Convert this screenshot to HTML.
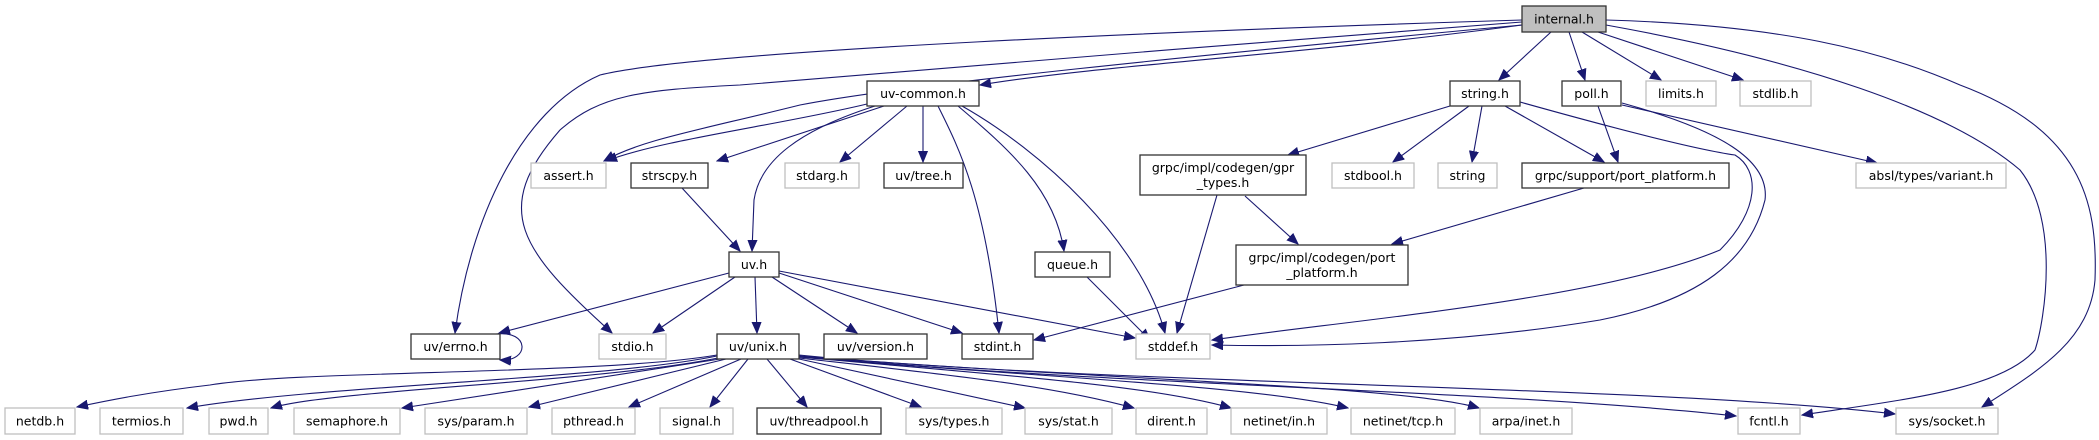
<!DOCTYPE html>
<html><head><meta charset="utf-8"><style>
html,body{margin:0;padding:0;background:#fff;width:2099px;height:440px;overflow:hidden}
svg{display:block}
text{font-family:"DejaVu Sans","Liberation Sans",sans-serif;font-size:12.5px;fill:#000}
.b{fill:#fff;stroke:#333;stroke-width:1.3}
.g{fill:#fff;stroke:#bfbfbf;stroke-width:1.3}
.e{fill:none;stroke:#191970;stroke-width:1.1}
</style></head><body>
<svg width="2099" height="440" viewBox="0 0 2099 440">
<defs><marker id="a" markerUnits="userSpaceOnUse" markerWidth="12" markerHeight="10" refX="11" refY="5" orient="auto"><path d="M0,0.5 L11,5 L0,9.5 Z" fill="#191970" stroke="#191970"/></marker></defs>
<g marker-end="url(#a)">
<!-- internal.h -->
<path class="e" d="M1522,20 C1200,30 700,50 600,75 C520,110 470,220 455,333"/>
<path class="e" d="M1522,22 C1300,40 900,70 740,85 C640,90 600,95 560,130 C490,210 520,250 612,333"/>
<path class="e" d="M1522,25 C1200,55 900,85 800,105 C700,130 640,140 604,161"/>
<path class="e" d="M1522,25 C1300,55 1100,65 980,85"/>
<path class="e" d="M1551,32 L1499,80"/>
<path class="e" d="M1569,32 L1585,80"/>
<path class="e" d="M1582,32 L1661,80"/>
<path class="e" d="M1598,32 L1743,80"/>
<path class="e" d="M1606,25 C1800,60 1950,110 2020,170 C2060,220 2045,320 2035,350 C2000,390 1900,400 1802,415"/>
<path class="e" d="M1606,20 C1780,25 1880,50 1960,85 C2080,130 2098,200 2095,280 C2090,340 2040,370 1982,407"/>
<!-- uv-common.h -->
<path class="e" d="M867,104 C780,125 660,140 606,161"/>
<path class="e" d="M884,106 L717,161"/>
<path class="e" d="M875,106 C800,130 760,160 754,200 L752,251"/>
<path class="e" d="M907,106 L840,162"/>
<path class="e" d="M923,106 L923,162"/>
<path class="e" d="M938,106 C960,150 985,200 999,333"/>
<path class="e" d="M958,106 C1010,150 1055,190 1064,251"/>
<path class="e" d="M962,106 C1040,150 1140,240 1165,333"/>
<path class="e" d="M682,188 L740,251"/>
<!-- string.h -->
<path class="e" d="M1450,106 L1288,155"/>
<path class="e" d="M1469,106 L1393,162"/>
<path class="e" d="M1482,106 L1472,162"/>
<path class="e" d="M1505,106 L1604,162"/>
<path class="e" d="M1520,102 C1620,130 1700,150 1735,155 C1760,170 1760,210 1720,250 C1600,300 1350,320 1212,340"/>
<!-- poll.h -->
<path class="e" d="M1598,106 L1618,162"/>
<path class="e" d="M1622,105 L1877,163"/>
<path class="e" d="M1622,103 C1720,130 1770,160 1765,200 C1750,260 1700,300 1600,320 C1450,345 1300,347 1212,345"/>
<!-- grpc -->
<path class="e" d="M1217,195 L1177,333"/>
<path class="e" d="M1245,196 L1298,244"/>
<path class="e" d="M1584,188 L1392,244"/>
<path class="e" d="M1244,285 L1034,340"/>
<path class="e" d="M1087,277 L1150,340"/>
<!-- uv.h -->
<path class="e" d="M729,273 L499,333"/>
<path class="e" d="M735,277 L653,333"/>
<path class="e" d="M755,277 L757,333"/>
<path class="e" d="M772,277 L857,333"/>
<path class="e" d="M779,273 L962,333"/>
<path class="e" d="M779,271 L1135,338"/>
<path class="e" d="M496,334 C530,330 530,362 500,360"/>
<!-- uv/unix.h -->
<path class="e" d="M717,355 C600,375 300,370 210,385 C150,392 110,400 77,407"/>
<path class="e" d="M717,356 C600,380 320,385 187,408"/>
<path class="e" d="M718,358 C600,382 330,390 271,408"/>
<path class="e" d="M720,359 L402,408"/>
<path class="e" d="M726,359 L529,407"/>
<path class="e" d="M741,359 L629,407"/>
<path class="e" d="M748,359 L710,407"/>
<path class="e" d="M767,359 L807,407"/>
<path class="e" d="M790,359 L921,407"/>
<path class="e" d="M799,359 L1025,408"/>
<path class="e" d="M799,358 C950,375 1050,385 1134,408"/>
<path class="e" d="M799,357 C1000,375 1150,385 1231,408"/>
<path class="e" d="M799,357 C1050,378 1250,385 1348,408"/>
<path class="e" d="M799,356 C1100,380 1400,385 1479,408"/>
<path class="e" d="M799,356 C1100,385 1500,390 1736,416"/>
<path class="e" d="M799,355 C1100,385 1650,385 1895,414"/>
</g>
<!-- nodes -->
<g text-anchor="middle">
<rect x="1522" y="6" width="84" height="26" fill="#bfbfbf" stroke="#333" stroke-width="1.3"/><text x="1564" y="23.5">internal.h</text>
<rect class="b" x="867" y="81" width="112" height="25"/><text x="923" y="98">uv-common.h</text>
<rect class="b" x="1450" y="81" width="70" height="25"/><text x="1485" y="98">string.h</text>
<rect class="b" x="1562" y="81" width="59" height="25"/><text x="1591.5" y="98">poll.h</text>
<rect class="g" x="1646" y="81" width="70" height="25"/><text x="1681" y="98">limits.h</text>
<rect class="g" x="1740" y="81" width="71" height="25"/><text x="1775.5" y="98">stdlib.h</text>
<rect class="g" x="531" y="163" width="75" height="25"/><text x="568.5" y="180">assert.h</text>
<rect class="b" x="631" y="163" width="77" height="25"/><text x="669.5" y="180">strscpy.h</text>
<rect class="g" x="785" y="163" width="74" height="25"/><text x="822" y="180">stdarg.h</text>
<rect class="b" x="884" y="163" width="79" height="25"/><text x="923.5" y="180">uv/tree.h</text>
<rect class="b" x="1140" y="155" width="166" height="40"/><text x="1223" y="172">grpc/impl/codegen/gpr</text><text x="1223" y="187">_types.h</text>
<rect class="g" x="1332" y="163" width="82" height="25"/><text x="1373" y="180">stdbool.h</text>
<rect class="g" x="1438" y="163" width="59" height="25"/><text x="1467.5" y="180">string</text>
<rect class="b" x="1522" y="163" width="207" height="25"/><text x="1625.5" y="180">grpc/support/port_platform.h</text>
<rect class="g" x="1856" y="163" width="150" height="25"/><text x="1931" y="180">absl/types/variant.h</text>
<rect class="b" x="729" y="252" width="50" height="25"/><text x="754" y="269">uv.h</text>
<rect class="b" x="1035" y="252" width="75" height="25"/><text x="1072.5" y="269">queue.h</text>
<rect class="b" x="1236" y="245" width="172" height="40"/><text x="1322" y="262">grpc/impl/codegen/port</text><text x="1322" y="277">_platform.h</text>
<rect class="b" x="411" y="334" width="89" height="25"/><text x="455.5" y="351">uv/errno.h</text>
<rect class="g" x="599" y="334" width="67" height="25"/><text x="632.5" y="351">stdio.h</text>
<rect class="b" x="717" y="334" width="82" height="25"/><text x="758" y="351">uv/unix.h</text>
<rect class="b" x="824" y="334" width="103" height="25"/><text x="875.5" y="351">uv/version.h</text>
<rect class="b" x="962" y="334" width="71" height="25"/><text x="997.5" y="351">stdint.h</text>
<rect class="g" x="1136" y="334" width="74" height="25"/><text x="1173" y="351">stddef.h</text>
<rect class="g" x="5" y="408" width="70" height="26"/><text x="40" y="425.5">netdb.h</text>
<rect class="g" x="100" y="408" width="83" height="26"/><text x="141.5" y="425.5">termios.h</text>
<rect class="g" x="209" y="408" width="59" height="26"/><text x="238.5" y="425.5">pwd.h</text>
<rect class="g" x="294" y="408" width="106" height="26"/><text x="347" y="425.5">semaphore.h</text>
<rect class="g" x="425" y="408" width="102" height="26"/><text x="476" y="425.5">sys/param.h</text>
<rect class="g" x="552" y="408" width="83" height="26"/><text x="593.5" y="425.5">pthread.h</text>
<rect class="g" x="660" y="408" width="73" height="26"/><text x="696.5" y="425.5">signal.h</text>
<rect class="b" x="757" y="408" width="124" height="26"/><text x="819" y="425.5">uv/threadpool.h</text>
<rect class="g" x="906" y="408" width="96" height="26"/><text x="954" y="425.5">sys/types.h</text>
<rect class="g" x="1025" y="408" width="87" height="26"/><text x="1068.5" y="425.5">sys/stat.h</text>
<rect class="g" x="1136" y="408" width="71" height="26"/><text x="1171.5" y="425.5">dirent.h</text>
<rect class="g" x="1231" y="408" width="96" height="26"/><text x="1279" y="425.5">netinet/in.h</text>
<rect class="g" x="1351" y="408" width="104" height="26"/><text x="1403" y="425.5">netinet/tcp.h</text>
<rect class="g" x="1480" y="408" width="92" height="26"/><text x="1526" y="425.5">arpa/inet.h</text>
<rect class="g" x="1738" y="408" width="62" height="26"/><text x="1769" y="425.5">fcntl.h</text>
<rect class="g" x="1896" y="408" width="102" height="26"/><text x="1947" y="425.5">sys/socket.h</text>
</g>
</svg>
</body></html>
